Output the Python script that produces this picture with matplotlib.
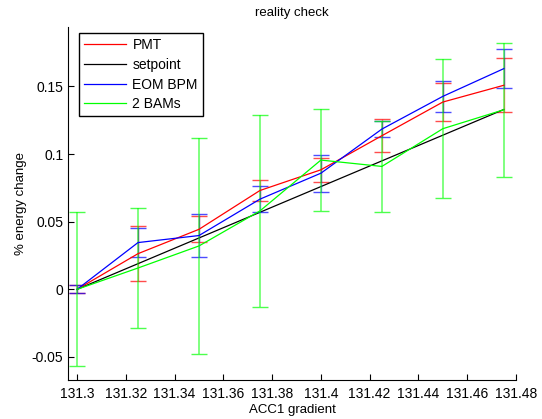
"""
Reality check plot: energy change vs ACC1 gradient.
"""

###########
# Imports #
###########

import matplotlib
matplotlib.use("Agg")
import matplotlib.pyplot as plt
from matplotlib.lines import Line2D
from matplotlib.ticker import FuncFormatter

########
# Data #
########

gradient = [131.3, 131.325, 131.35, 131.375, 131.4, 131.425, 131.45, 131.475]

pmt = [0.0, 0.0264, 0.0444, 0.0731, 0.0884, 0.1136, 0.1385, 0.1509]
pmt_err = [0.003, 0.0205, 0.0097, 0.008, 0.009, 0.012, 0.014, 0.020]

setpoint = [0.0, 0.019, 0.038, 0.057, 0.076, 0.095, 0.114, 0.133]

eom_bpm = [0.0, 0.0346, 0.0398, 0.0667, 0.0859, 0.1185, 0.1427, 0.1632]
eom_bpm_err = [0.003, 0.011, 0.016, 0.0096, 0.0137, 0.006, 0.0114, 0.0144]

bams = [0.0, 0.0158, 0.0321, 0.058, 0.0956, 0.0909, 0.1188, 0.1328]
bams_err = [0.057, 0.044, 0.080, 0.071, 0.0378, 0.0337, 0.0513, 0.0497]

x_ticks = [131.3, 131.32, 131.34, 131.36, 131.38, 131.4, 131.42, 131.44, 131.46, 131.48]
y_ticks = [-0.05, 0, 0.05, 0.1, 0.15]

labels = ['PMT', 'setpoint', 'EOM BPM', '2 BAMs']
colors = ['#ff0000', '#000000', '#0000ff', '#00ff00']

#########
# Style #
#########

plt.rcParams['font.family'] = ['Liberation Sans', 'DejaVu Sans']
plt.rcParams['font.size'] = 10

########
# Plot #
########

fig = plt.figure(figsize=(5.42, 4.19), dpi=100)
ax = fig.add_axes([0.1255, 0.0931, 0.952 - 0.1255, 0.9356 - 0.0931])

def add_series(y, err, color, bar_lw=1.0):
    # Plain line when there is no error
    if err is None:
        ax.plot(gradient, y, color=color, lw=0.9)
        return
    cont = ax.errorbar(gradient, y, yerr=err, color=color, lw=0.9,
                       elinewidth=bar_lw, capsize=5.5, capthick=1.0)
    for cap in cont[1]:
        cap.set_alpha(0.7)
    for bar in cont[2]:
        bar.set_alpha(0.5)

add_series(pmt, pmt_err, colors[0])
add_series(setpoint, None, colors[1])
add_series(eom_bpm, eom_bpm_err, colors[2])
add_series(bams, bams_err, colors[3], bar_lw=1.4)

# Axes limits and ticks
ax.set_xlim(131.2963, 131.48)
ax.set_ylim(-0.067, 0.194)
ax.set_xticks(x_ticks)
ax.set_yticks(y_ticks)
fmt = FuncFormatter(lambda v, pos: '%g' % round(v, 4))
ax.xaxis.set_major_formatter(fmt)
ax.yaxis.set_major_formatter(fmt)
ax.tick_params(direction='in', length=4, width=0.8, colors='black', labelsize=10)
ax.tick_params(axis='x', pad=5)

# Box off like the original
ax.spines['top'].set_visible(False)
ax.spines['right'].set_visible(False)
ax.spines['left'].set_linewidth(0.8)
ax.spines['bottom'].set_linewidth(0.8)

# Labels
ax.set_title('reality check', fontsize=9.5, pad=8)
ax.set_xlabel('ACC1 gradient', fontsize=9.5, labelpad=2)
ax.set_ylabel('% energy change', fontsize=9.5, labelpad=3)

# Legend with plain line handles
handles = [Line2D([], [], color=c, lw=0.9) for c in colors]
leg = ax.legend(handles, labels, loc='upper left',
                bbox_to_anchor=(0.0245, 0.983), borderaxespad=0,
                handlelength=3.0, handletextpad=0.5, borderpad=0.35,
                labelspacing=0.42, fancybox=False, edgecolor='black',
                framealpha=1, fontsize=10)
leg.get_frame().set_linewidth(1.0)

fig.savefig('out.png', dpi=100)
